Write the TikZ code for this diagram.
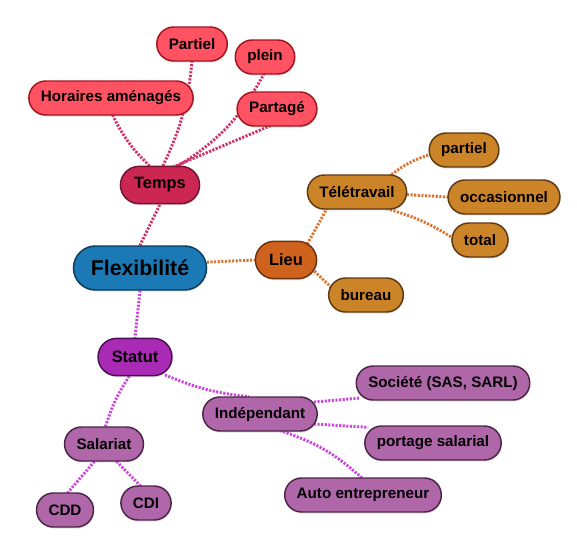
\documentclass[tikz,border=0pt]{standalone}
\usepackage{fontspec}
\setmainfont{Liberation Sans}
\usepackage{tikz}
\usetikzlibrary{shadows,backgrounds}
\definecolor{FBlue}{HTML}{1B7AB6}
\definecolor{FBlueD}{HTML}{0D3B5A}
\definecolor{TRed}{HTML}{CB2752}
\definecolor{TRedD}{HTML}{6E1530}
\definecolor{LRed}{HTML}{FF5363}
\definecolor{LRedD}{HTML}{A3141F}
\definecolor{TOra}{HTML}{CF621C}
\definecolor{TOraD}{HTML}{6A3210}
\definecolor{LOra}{HTML}{CC8428}
\definecolor{LOraD}{HTML}{5C3A12}
\definecolor{TPur}{HTML}{A92AB5}
\definecolor{TPurD}{HTML}{4C0F55}
\definecolor{LPur}{HTML}{B067AA}
\definecolor{LPurD}{HTML}{4A2545}
\definecolor{ERed}{HTML}{D23366}
\definecolor{EOra}{HTML}{DC7430}
\definecolor{EPur}{HTML}{CC46E0}

\begin{document}
\begin{tikzpicture}[
  x=0.75pt,y=-0.75pt,
  every node/.style={text=black,line width=1.1pt,inner ysep=0pt,
    drop shadow={shadow xshift=0.6pt,shadow yshift=-1.2pt,opacity=.22}},
  leaf/.style={draw,rectangle,rounded corners=12.7pt,minimum height=25.5pt,
    inner xsep=9pt,font=\bfseries\fontsize{11.4}{13}\selectfont},
  topic/.style={draw,rectangle,rounded corners=14pt,minimum height=28pt,
    inner xsep=10.3pt,font=\bfseries\fontsize{12.3}{14}\selectfont},
  hub/.style={draw=FBlueD,fill=FBlue,rectangle,rounded corners=16.5pt,
    minimum height=33pt,inner xsep=13pt,font=\bfseries\fontsize{16}{18}\selectfont},
  lred/.style={leaf,draw=LRedD,fill=LRed},
  tred/.style={topic,draw=TRedD,fill=TRed},
  lora/.style={leaf,draw=LOraD,fill=LOra},
  tora/.style={topic,draw=TOraD,fill=TOra},
  lpur/.style={leaf,draw=LPurD,fill=LPur},
  tpur/.style={topic,draw=TPurD,fill=TPur},
  link/.style={line width=2.2pt,dash pattern=on 1.6pt off 1.1pt,
    shorten <=-3pt,shorten >=-3pt},
  ered/.style={link,draw=ERed},
  eora/.style={link,draw=EOra},
  epur/.style={link,draw=EPur}
]
  \useasboundingbox (0,0) rectangle (577,557);
  % centre
  \node[hub] (flex) at (140,268) {Flexibilité};
  % Temps
  \node[tred] (temps) at (160,185) {Temps};
  \node[lred] (horaires) at (111,98) {Horaires aménagés};
  \node[lred] (partiel) at (192,44) {Partiel};
  \node[lred] (plein) at (265,57) {plein};
  \node[lred] (partage) at (277,109) {Partagé};
  % Lieu
  \node[tora] (lieu) at (286,260) {Lieu};
  \node[lora] (tele) at (357,192) {Télétravail};
  \node[lora] (bureau) at (366,295) {bureau};
  \node[lora] (partielt) at (464,150) {partiel};
  \node[lora] (occas) at (504,197) {occasionnel};
  \node[lora] (total) at (480,240) {total};
  % Statut
  \node[tpur] (statut) at (135,357) {Statut};
  \node[lpur] (salariat) at (104,444) {Salariat};
  \node[lpur] (cdd) at (65,510) {CDD};
  \node[lpur] (cdi) at (146,503) {CDI};
  \node[lpur] (indep) at (260,414) {Indépendant};
  \node[lpur] (societe) at (443,383) {Société (SAS, SARL)};
  \node[lpur] (portage) at (433,443) {portage salarial};
  \node[lpur] (auto) at (363,495) {Auto entrepreneur};

  \begin{scope}[on background layer]
    \foreach \x/\y/\b in {flex.north/temps.south/0,temps.119/horaires.-84/10,
        temps.81/partiel.-90/-10,temps.50/partage.-117/0,temps.46/plein.-95/-15}
      {\draw[ered] (\x) to[bend left=\b] (\y);}
    \foreach \x/\y/\b in {flex.5/lieu.west/0,lieu.40/tele.-150/0,
        lieu.-24/bureau.164/0,tele.27/partielt.188/10,tele.-3/occas.west/0,
        tele.-28/total.174/8}
      {\draw[eora] (\x) to[bend left=\b] (\y);}
    \foreach \x/\y/\b in {flex.south/statut.north/0,statut.-30/indep.130/-8,
        statut.-107/salariat.85/-8,salariat.-119/cdd.80/0,salariat.-54/cdi.109/0,
        indep.12/societe.190/0,indep.-10/portage.167/0,indep.-37/auto.96/12}
      {\draw[epur] (\x) to[bend left=\b] (\y);}
  \end{scope}
\end{tikzpicture}
\end{document}
